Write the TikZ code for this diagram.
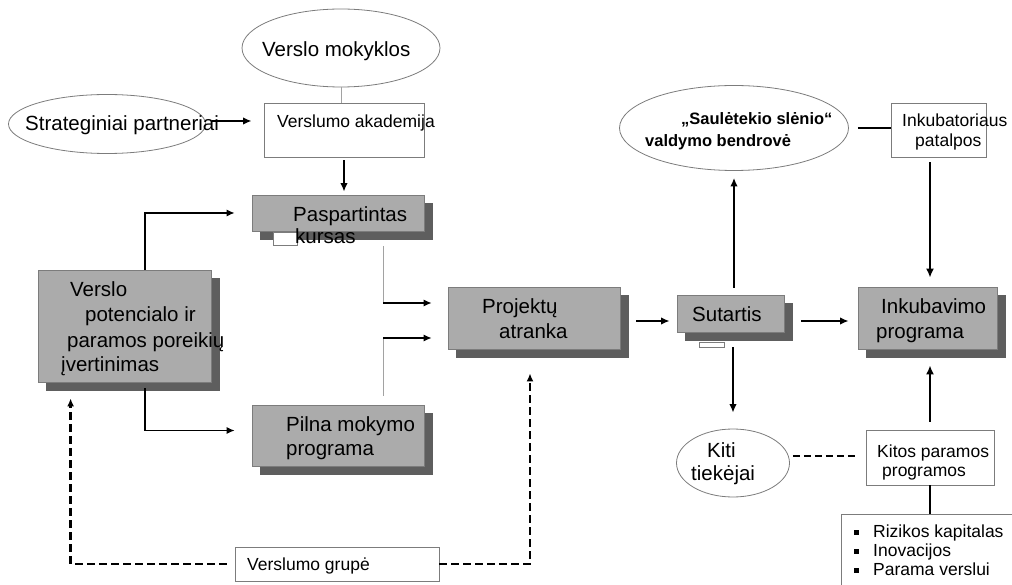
\documentclass[tikz,border=0pt]{standalone}
\usepackage{fontspec}
\setmainfont{Liberation Sans}
\usetikzlibrary{shapes.geometric,shadows,arrows.meta}
\definecolor{boxgray}{HTML}{ABABAB}
\definecolor{shadegray}{HTML}{5E5E5E}
\definecolor{edgegray}{HTML}{7C7C7C}
\definecolor{linegray}{HTML}{A2A2A2}
\newcommand{\bigtxt}{\fontsize{20.5}{25}\selectfont}
\newcommand{\smalltxt}{\fontsize{17.5}{21}\selectfont}
\newcommand{\boldtxt}{\fontsize{16.5}{20}\selectfont\bfseries}
\newcommand{\blt}{\rule[2.5pt]{5pt}{5pt}\hspace{14pt}}
\begin{document}
\begin{tikzpicture}[x=1pt,y=-1pt,
  shadebox/.style={rectangle,draw=edgegray,line width=0.8pt,fill=boxgray,inner sep=0pt,
    general shadow={shadow xshift=8.5pt,shadow yshift=-8.5pt,fill=shadegray,draw=shadegray}},
  whitebox/.style={rectangle,draw=edgegray,line width=0.9pt,fill=white,inner sep=0pt},
  oval/.style={ellipse,draw=edgegray,line width=0.8pt,fill=white,inner sep=0pt},
  txt/.style={anchor=base west,inner sep=0pt,font=\bigtxt},
  stxt/.style={anchor=base west,inner sep=0pt,font=\smalltxt},
  btxt/.style={anchor=base west,inner sep=0pt,font=\boldtxt},
  arr/.style={line width=1.6pt,-{Latex[length=8.5pt,width=7.5pt]}},
  arrm/.style={line width=1.2pt,-{Latex[length=8pt,width=7pt]}},
  arrthick/.style={line width=2pt,-{Latex[length=9pt,width=8pt]}},
  grayline/.style={draw=linegray,line width=1pt},
  dasharr/.style={line width=2.5pt,dash pattern=on 7.5pt off 4.5pt,-{Latex[length=8pt,width=7pt]}},
  thindash/.style={line width=1.3pt,dash pattern=on 7pt off 4pt}]
  \useasboundingbox (0,0) rectangle (1012,585);
  \clip (0,0) rectangle (1012,585);

  % ovals
  \node[oval,minimum width=198pt,minimum height=78pt] (mokykl) at (341,48) {};
  \node[oval,minimum width=197pt,minimum height=59pt] (strat) at (107,124) {};
  \node[oval,minimum width=229pt,minimum height=85pt] (saul) at (734,128) {};
  \node[oval,minimum width=113pt,minimum height=68pt] (kiti) at (733,463) {};

  % white boxes
  \node[whitebox,minimum width=160pt,minimum height=54pt] (akad) at (344,130) {};
  \node[whitebox,minimum width=95pt,minimum height=54pt] (patalp) at (938.5,130) {};
  \node[whitebox,minimum width=128pt,minimum height=55pt] (kitos) at (930,457.5) {};
  \node[whitebox,minimum width=189pt,minimum height=86pt] (rizik) at (935.5,557) {};
  \node[whitebox,minimum width=204pt,minimum height=34pt] (grupe) at (337,564) {};

  % shaded boxes
  \node[shadebox,minimum width=172pt,minimum height=36pt] (pasp) at (338,213) {};
  \node[shadebox,minimum width=173pt,minimum height=112pt] (potenc) at (124.5,326) {};
  \node[shadebox,minimum width=172pt,minimum height=61pt] (pilna) at (338,435.5) {};
  \node[shadebox,minimum width=172pt,minimum height=62pt] (proj) at (534,318) {};
  \node[shadebox,minimum width=107pt,minimum height=37pt] (sut) at (730.5,313.5) {};
  \node[shadebox,minimum width=139pt,minimum height=62pt] (inkub) at (927.5,318) {};
  \draw[edgegray,fill=white,line width=0.8pt] (273,232) rectangle (297,245);
  \draw[edgegray,fill=white,line width=0.8pt] (699,342) rectangle (724,347);

  % connectors
  \draw[grayline] (mokykl.south) -- (mokykl.south |- akad.north);
  \draw[arr] ([xshift=6pt,yshift=3pt]strat.east) -- ([xshift=-12pt,yshift=3pt]akad.west |- strat.east);
  \draw[arr,shorten <=3pt,shorten >=3pt] (akad.south) -- (akad.south |- pasp.north);
  \draw[arrm] ([xshift=20.5pt]potenc.north) |- ([xshift=-17pt]pasp.west);
  \draw[arrm] ([xshift=20.5pt,yshift=-6pt]potenc.south) |- ([xshift=-17pt,yshift=5pt]pilna.west);
  \coordinate (jtop) at (383,303);
  \coordinate (jbot) at (383,338);
  \draw[grayline] ([yshift=-15pt]pasp.south -| jtop) -- (jtop);
  \draw[arrm] (jtop) -- ([xshift=-16pt]proj.west |- jtop);
  \draw[grayline] ([yshift=9pt]pilna.north -| jbot) -- (jbot);
  \draw[arrm] (jbot) -- ([xshift=-16pt]proj.west |- jbot);
  \draw[arr] ([xshift=16pt,yshift=-3pt]proj.east) -- ([xshift=-7pt,yshift=-3pt]sut.west |- proj.east);
  \draw[arr] ([xshift=17pt,yshift=-3pt]sut.east |- inkub.west) -- ([xshift=-9pt,yshift=-3pt]inkub.west);
  \draw[arr] ([yshift=7pt]sut.north -| saul.south) -- ([yshift=-7pt]saul.south);
  \draw[arr] ([yshift=-15pt]sut.south -| kiti.north) -- ([yshift=16pt]kiti.north);
  \draw[line width=1.6pt] ([xshift=9pt]saul.east) -- (patalp.west |- saul.east);
  \draw[arrthick] ([yshift=-5pt]patalp.south -| kitos.north) -- ([yshift=9pt]kitos.north |- inkub.north);
  \draw[arrthick] ([yshift=8pt]kitos.north) -- ([yshift=-16pt]kitos.north |- inkub.south);
  \draw[thindash] ([xshift=3pt,yshift=7pt]kiti.east) -- ([xshift=-7pt,yshift=7pt]kitos.west |- kiti.east);
  \draw[line width=2pt] (kitos.south) -- (kitos.south |- rizik.north);
  \draw[dasharr] ([xshift=-8pt]grupe.west) -| ([xshift=33pt,yshift=-16pt]potenc.south west);
  \draw[dasharr] (grupe.east) -| ([xshift=-4pt,yshift=-24pt]proj.south);

  % texts
  \node[txt] (tmokykl) at (262,57) {Verslo mokyklos};
  \node[txt] (tstrat) at (25,131) {Strateginiai partneriai};
  \node[stxt] (takad) at (277,128) {Verslumo akademija};
  \node[txt] (tpasp1) at (293,222) {Paspartintas};
  \node[txt] (tpasp2) at (295,244) {kursas};
  \node[txt] (tpot1) at (70,297) {Verslo};
  \node[txt] (tpot2) at (85,322) {potencialo ir};
  \node[txt] (tpot3) at (67,347) {paramos poreikių};
  \node[txt] (tpot4) at (61,371) {įvertinimas};
  \node[txt] (tpil1) at (286,431) {Pilna mokymo};
  \node[txt] (tpil2) at (286,455) {programa};
  \node[txt] (tproj1) at (482,313) {Projektų};
  \node[txt] (tproj2) at (499,338) {atranka};
  \node[txt] (tsut) at (692,322) {Sutartis};
  \node[txt] (tink1) at (881,313) {Inkubavimo};
  \node[txt] (tink2) at (876,338) {programa};
  \node[btxt] (tsaul1) at (681,125) {„Saulėtekio slėnio“};
  \node[btxt] (tsaul2) at (645,147) {valdymo bendrovė};
  \node[stxt] (tpat1) at (902,127) {Inkubatoriaus};
  \node[stxt] (tpat2) at (915,147) {patalpos};
  \node[txt] (tkiti1) at (707,457) {Kiti};
  \node[txt] (tkiti2) at (691,480) {tiekėjai};
  \node[stxt] (tkit1) at (877,457) {Kitos paramos};
  \node[stxt] (tkit2) at (882,476) {programos};
  \node[stxt] (triz1) at (854,537) {\blt Rizikos kapitalas};
  \node[stxt] (triz2) at (854,556) {\blt Inovacijos};
  \node[stxt] (triz3) at (854,575) {\blt Parama verslui};
  \node[stxt] (tgrupe) at (247,570) {Verslumo grupė};
\end{tikzpicture}
\end{document}
